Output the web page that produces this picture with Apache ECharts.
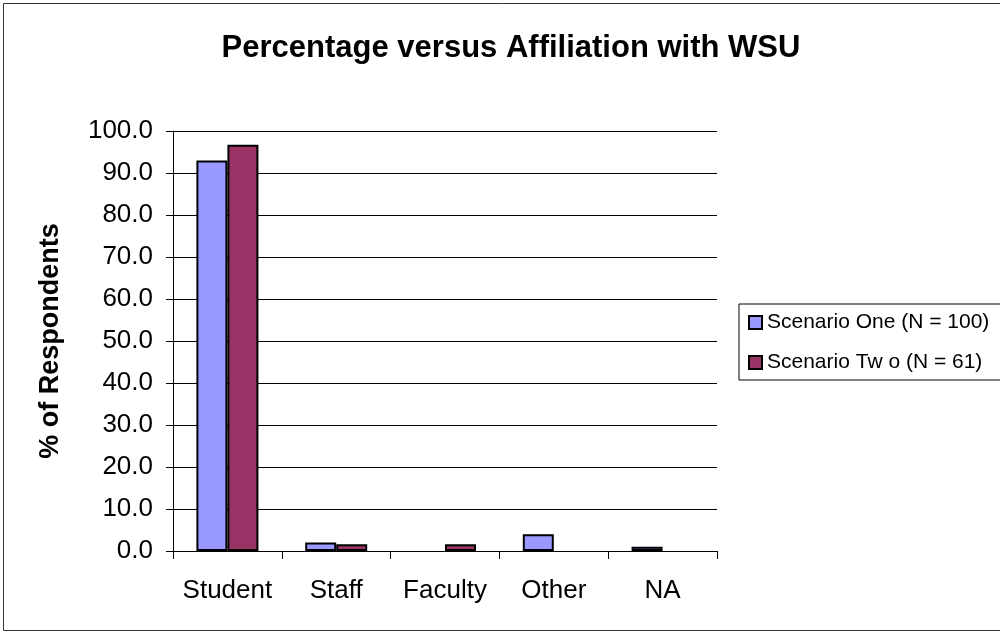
<!DOCTYPE html>
<html>
<head>
<meta charset="utf-8">
<script src="https://cdn.jsdelivr.net/npm/echarts@6/dist/echarts.min.js"></script>
<style>
  html, body { margin: 0; padding: 0; background: #fff; }
  #chart { width: 1000px; height: 634px; }
</style>
</head>
<body>
<div id="chart"></div>
<script>
// Affiliation categories and percentage of respondents per scenario
const categories = ['Student', 'Staff', 'Faculty', 'Other', 'NA'];
const scenarioOne = [93.0, 2.0, 0.0, 4.0, 1.0];
const scenarioTwo = [96.7, 1.6, 1.6, 0.0, 0.0];
const seriesNames = ['Scenario One (N = 100)', 'Scenario Tw o (N = 61)'];

const font = 'Liberation Sans, Arial, sans-serif';
// zero shares are left empty so no flat outline is drawn on the baseline
const asBars = arr => arr.map(v => (v === 0 ? '-' : v));

const chart = echarts.init(document.getElementById('chart'));

chart.setOption({
  animation: false,
  backgroundColor: '#fff',
  title: {
    text: 'Percentage versus Affiliation with WSU',
    left: 506, top: 28, textAlign: 'center',
    textStyle: { fontFamily: font, fontSize: 31, fontWeight: 'bold', color: '#000' }
  },
  legend: {
    orient: 'vertical',
    left: 739, top: 304,
    width: 300,
    padding: [8, 60, 7, 9],
    itemGap: 19,
    itemWidth: 13, itemHeight: 13,
    icon: 'rect',
    borderColor: '#000', borderWidth: 1,
    textStyle: { fontFamily: font, fontSize: 21, color: '#000' },
    data: seriesNames
  },
  grid: { left: 173, right: 283, top: 131, bottom: 83 },
  xAxis: {
    type: 'category',
    data: categories,
    axisLine: { lineStyle: { color: '#000', width: 1 } },
    axisTick: { show: true, length: 8, lineStyle: { color: '#000' } },
    axisLabel: { fontFamily: font, fontSize: 26, color: '#000', margin: 27, interval: 0 }
  },
  yAxis: {
    type: 'value',
    min: 0, max: 100, interval: 10,
    name: '% of Respondents',
    nameLocation: 'middle',
    nameGap: 109,
    nameTextStyle: { fontFamily: font, fontSize: 27, fontWeight: 'bold', color: '#000' },
    axisLine: { show: true, lineStyle: { color: '#000', width: 1 } },
    axisTick: { show: true, length: 7, lineStyle: { color: '#000' } },
    axisLabel: {
      fontFamily: font, fontSize: 26, color: '#000', margin: 20,
      formatter: v => v.toFixed(1)
    },
    splitLine: { show: true, lineStyle: { color: '#000', width: 1 } }
  },
  series: [
    {
      name: seriesNames[0], type: 'bar', data: asBars(scenarioOne),
      barGap: '0%', barCategoryGap: '43%',
      itemStyle: { color: '#9999ff', borderColor: '#000', borderWidth: 2 }
    },
    {
      name: seriesNames[1], type: 'bar', data: asBars(scenarioTwo),
      itemStyle: { color: '#993366', borderColor: '#000', borderWidth: 2 }
    }
  ],
  graphic: [{
    type: 'rect',
    shape: { x: 3.5, y: 3.5, width: 1000, height: 627 },
    style: { fill: 'none', stroke: '#333', lineWidth: 1 },
    silent: true, z: -1
  }]
});
</script>
</body>
</html>
